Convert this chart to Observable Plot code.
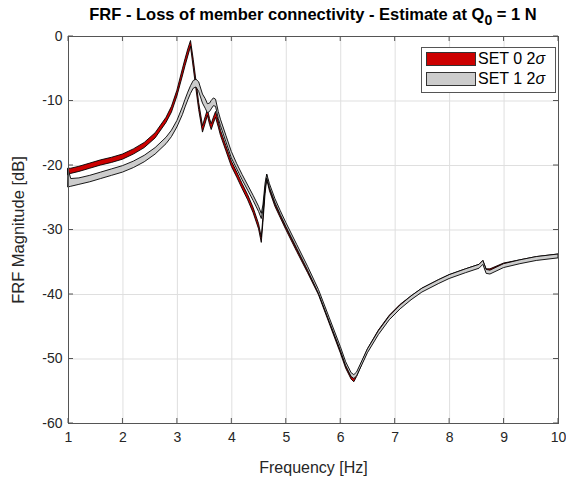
<!DOCTYPE html>
<html><head><meta charset="utf-8">
<script src="https://cdn.jsdelivr.net/npm/d3@7"></script>
<script src="https://cdn.jsdelivr.net/npm/@observablehq/plot@0.6"></script>
<style>
body{margin:0;background:#fff;font-family:"Liberation Sans",Arial,sans-serif;}
#wrap{position:relative;width:566px;height:484px;}
#title{position:absolute;left:68px;width:490px;top:5px;text-align:center;font-weight:bold;font-size:16.5px;line-height:19px;color:#000;white-space:nowrap;}
#title sub{font-size:14px;vertical-align:-5px;line-height:0;}
#legend{position:absolute;left:421px;top:47px;width:135px;height:46px;box-sizing:border-box;border:1px solid #555;background:#fff;}
.sw{position:absolute;left:4px;width:50px;height:14px;box-sizing:border-box;border:1px solid #333;}
.lt{position:absolute;left:56px;font-size:16px;line-height:18px;color:#000;white-space:nowrap;}
</style></head><body>
<div id="wrap">
<div id="chart"></div>
<div id="title">FRF - Loss of member connectivity - Estimate at Q<sub>0</sub> = 1 N</div>
<div id="legend">
<div class="sw" style="top:4px;background:#cc0000"></div><div class="lt" style="top:2px">SET 0 2<i>σ</i></div>
<div class="sw" style="top:24px;background:#cccccc"></div><div class="lt" style="top:22px">SET 1 2<i>σ</i></div>
</div>
</div>
<script>
const xTicks = [1,2,3,4,5,6,7,8,9,10];
const yTicks = [-60,-50,-40,-30,-20,-10,0];
const freq = [1.0,1.05,1.2,1.4,1.6,1.8,2.0,2.2,2.4,2.6,2.8,2.9,3.0,3.1,3.15,3.2,3.25,3.3,3.35,3.4,3.47,3.52,3.56,3.6,3.63,3.67,3.71,3.76,3.8,3.9,4.0,4.1,4.2,4.3,4.4,4.5,4.55,4.58,4.62,4.65,4.7,4.8,4.9,5.0,5.2,5.4,5.6,5.8,6.0,6.1,6.2,6.25,6.3,6.4,6.5,6.7,6.9,7.1,7.3,7.5,7.8,8.0,8.3,8.55,8.62,8.68,8.75,9.0,9.3,9.6,10.0];
const set0Hi = [-20.5,-20.5,-20.2,-19.7,-19.2,-18.8,-18.3,-17.5,-16.5,-15.0,-12.6,-10.9,-8.4,-5.1,-3.5,-2.0,-0.7,-3.6,-6.9,-10.3,-13.9,-12.5,-11.4,-12.8,-13.6,-12.6,-11.7,-13.2,-14.6,-17.0,-19.4,-21.1,-22.9,-24.6,-26.6,-29.1,-31.2,-28.1,-23.6,-21.5,-23.6,-26.0,-27.8,-29.6,-33.0,-36.3,-39.7,-44.2,-48.7,-51.1,-52.8,-53.0,-52.4,-50.4,-48.5,-45.6,-43.3,-41.6,-40.3,-39.1,-37.8,-37.0,-36.1,-35.4,-34.8,-36.1,-36.1,-35.2,-34.7,-34.2,-33.8];
const set0Lo = [-21.5,-21.3,-21.0,-20.5,-20.0,-19.6,-19.1,-18.3,-17.3,-15.8,-13.4,-11.8,-9.3,-6.2,-4.6,-3.1,-1.6,-4.9,-8.2,-11.4,-14.9,-13.5,-12.3,-13.7,-14.5,-13.5,-12.6,-14.1,-15.4,-17.8,-20.2,-21.9,-23.7,-25.4,-27.4,-29.9,-32.0,-28.9,-24.4,-22.2,-24.0,-26.4,-28.2,-30.0,-33.4,-36.7,-40.1,-44.6,-49.1,-51.5,-53.2,-53.6,-52.8,-50.8,-48.9,-46.0,-43.7,-42.0,-40.7,-39.5,-38.2,-37.4,-36.5,-35.8,-35.2,-36.5,-36.5,-35.6,-35.1,-34.6,-34.2];
const set1Hi = [-20.6,-22.1,-22.0,-21.6,-21.1,-20.6,-20.1,-19.4,-18.5,-17.3,-15.7,-14.6,-13.1,-11.0,-9.8,-8.7,-7.7,-6.9,-6.7,-7.1,-9.0,-9.7,-10.5,-10.4,-10.0,-9.6,-9.8,-11.7,-12.9,-15.4,-17.9,-19.8,-21.5,-23.1,-24.7,-26.4,-27.5,-26.2,-22.8,-21.4,-22.9,-25.2,-27.1,-28.9,-32.3,-35.7,-39.3,-43.7,-48.1,-50.5,-52.2,-52.5,-52.1,-50.3,-48.5,-45.7,-43.4,-41.7,-40.3,-39.1,-37.8,-37.0,-36.1,-35.4,-34.8,-36.2,-36.3,-35.3,-34.7,-34.2,-33.8];
const set1Lo = [-23.4,-23.3,-23.0,-22.6,-22.1,-21.6,-21.1,-20.4,-19.5,-18.3,-16.7,-15.6,-14.1,-12.2,-11.0,-9.9,-8.9,-8.1,-7.9,-8.6,-10.4,-11.2,-11.9,-11.7,-11.3,-10.8,-10.9,-12.8,-13.9,-16.4,-18.9,-20.6,-22.3,-23.9,-25.5,-27.2,-28.3,-27.0,-23.6,-22.0,-23.5,-25.8,-27.7,-29.5,-32.9,-36.3,-39.9,-44.3,-48.7,-51.1,-52.8,-53.1,-52.7,-50.9,-49.1,-46.3,-44.0,-42.3,-40.9,-39.7,-38.4,-37.6,-36.7,-36.0,-35.4,-36.8,-36.9,-35.9,-35.3,-34.8,-34.4];
const xLabel = "Frequency [Hz]";
const yLabel = "FRF Magnitude [dB]";

const data0 = freq.map((f,i)=>({f, lo:set0Lo[i], hi:set0Hi[i]}));
const data1 = freq.map((f,i)=>({f, lo:set1Lo[i], hi:set1Hi[i]}));

const plot = Plot.plot({
  width:566, height:484, marginLeft:68, marginRight:8, marginTop:36, marginBottom:61,
  style:{fontFamily:"'Liberation Sans', Arial, sans-serif", fontSize:"14px", color:"#262626", background:"white"},
  x:{domain:[1,10], ticks:xTicks, tickSize:0, tickPadding:9, label:null, tickFormat:d=>String(d)},
  y:{domain:[-60,0], ticks:yTicks, tickSize:0, tickPadding:6, label:null, tickFormat:d=>String(d)},
  marks:[
    Plot.ruleX(xTicks, {x:d=>d, stroke:"#dfdfdf"}),
    Plot.ruleY(yTicks, {y:d=>d, stroke:"#dfdfdf"}),
    Plot.areaY(data0, {x:"f", y1:"lo", y2:"hi", fill:"#cc0000", stroke:"#000", strokeWidth:0.9}),
    Plot.areaY(data1, {x:"f", y1:"lo", y2:"hi", fill:"#cccccc", stroke:"#000", strokeWidth:0.9}),
    Plot.frame({stroke:"#555"}),
    Plot.text([xLabel], {text:d=>d, frameAnchor:"bottom", dy:44, textAnchor:"middle", lineAnchor:"middle", fontSize:16, fill:"#262626"}),
    Plot.text([yLabel], {text:d=>d, frameAnchor:"left", dx:-50, rotate:-90, textAnchor:"middle", lineAnchor:"middle", fontSize:16.5, fill:"#262626"})
  ]
});
document.getElementById("chart").appendChild(plot);

// inward ticks on all four sides, placed through the plot's scales
const sx = plot.scale("x"), sy = plot.scale("y");
const svg = d3.select(plot.tagName.toLowerCase()==="svg" ? plot : plot.querySelector("svg"));
const g = svg.append("g").attr("stroke","#555").attr("stroke-width",1);
const yb = sy.apply(-60), yt = sy.apply(0), xl = sx.apply(1), xr = sx.apply(10);
for (const t of xTicks) {
  const px = sx.apply(t);
  g.append("line").attr("x1",px).attr("x2",px).attr("y1",yb).attr("y2",yb-5);
  g.append("line").attr("x1",px).attr("x2",px).attr("y1",yt).attr("y2",yt+5);
}
for (const t of yTicks) {
  const py = sy.apply(t);
  g.append("line").attr("y1",py).attr("y2",py).attr("x1",xl).attr("x2",xl+5);
  g.append("line").attr("y1",py).attr("y2",py).attr("x1",xr).attr("x2",xr-5);
}
</script>
</body></html>
